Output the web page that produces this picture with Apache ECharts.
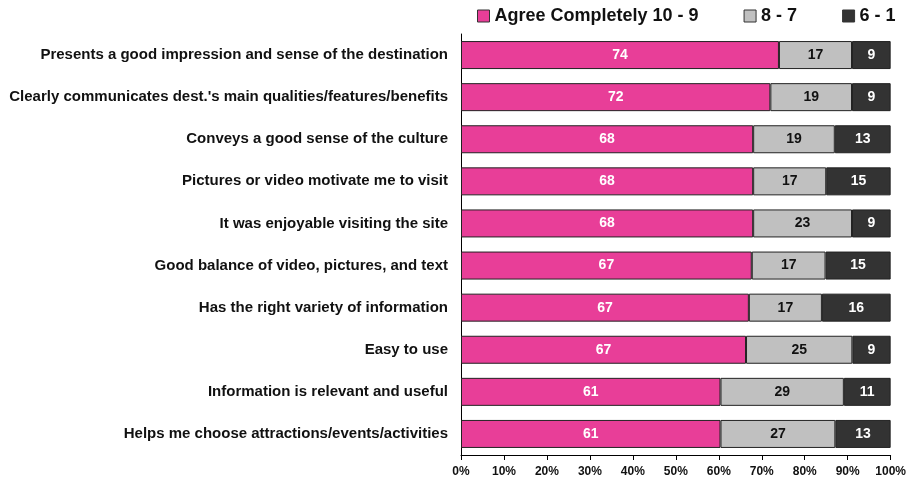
<!DOCTYPE html>
<html>
<head>
<meta charset="utf-8">
<script src="https://cdn.jsdelivr.net/npm/echarts@6/dist/echarts.min.js"></script>
<style>
  html, body { margin: 0; padding: 0; background: #fff; }
  #chart { width: 909px; height: 483px; }
</style>
</head>
<body>
<div id="chart"></div>
<script>
// Statements rated by respondents (top to bottom)
const categories = [
  "Presents a good impression and sense of the destination",
  "Clearly communicates dest.'s main qualities/features/benefits",
  "Conveys a good sense of the culture",
  "Pictures or video motivate me to visit",
  "It was enjoyable visiting the site",
  "Good balance of video, pictures, and text",
  "Has the right variety of information",
  "Easy to use",
  "Information is relevant and useful",
  "Helps me choose attractions/events/activities"
];

// Rating shares per statement
const agreeCompletely = [74, 72, 68, 68, 68, 67, 67, 67, 61, 61];
const mid = [17, 19, 19, 17, 23, 17, 17, 25, 29, 27];
const low = [9, 9, 13, 15, 9, 15, 16, 9, 11, 13];

const seriesNames = ["Agree Completely 10 - 9", "8 - 7", "6 - 1"];
const xTicks = [0, 10, 20, 30, 40, 50, 60, 70, 80, 90, 100];

const FONT = '"Liberation Sans", Arial, sans-serif';
const colors = ["#E83E98", "#C0C0C0", "#333333"];
const labelColors = ["#ffffff", "#111111", "#ffffff"];

// Each bar is drawn as its share of the row total (100% stacked)
const totals = categories.map((_, i) => agreeCompletely[i] + mid[i] + low[i]);
const raw = [agreeCompletely, mid, low];

const chart = echarts.init(document.getElementById('chart'), null, { renderer: 'canvas' });

chart.setOption({
  animation: false,
  backgroundColor: '#ffffff',
  textStyle: { fontFamily: FONT },
  legend: {
    top: 2,
    left: 472,
    itemWidth: 12,
    itemHeight: 12,
    itemGap: 45,
    icon: 'rect',
    textStyle: { fontFamily: FONT, fontSize: 18, fontWeight: 'bold', color: '#111' },
    data: seriesNames.map((n, k) => ({
      name: n,
      itemStyle: { color: colors[k], borderColor: '#333', borderWidth: 1 }
    }))
  },
  grid: { left: 461, right: 17, top: 34, bottom: 28, containLabel: false },
  xAxis: {
    type: 'value',
    min: xTicks[0],
    max: xTicks[xTicks.length - 1],
    interval: 10,
    axisLine: { show: true, lineStyle: { color: '#000', width: 1 } },
    axisTick: { show: true, length: 5, lineStyle: { color: '#000' } },
    splitLine: { show: false },
    axisLabel: {
      formatter: '{value}%',
      fontFamily: FONT, fontSize: 12, fontWeight: 'bold', color: '#111', margin: 11
    }
  },
  yAxis: {
    type: 'category',
    inverse: true,
    data: categories,
    axisLine: { show: true, lineStyle: { color: '#000', width: 1 } },
    axisTick: { show: false },
    axisLabel: {
      fontFamily: FONT, fontSize: 15, fontWeight: 'bold', color: '#111', margin: 13
    }
  },
  series: seriesNames.map((name, k) => ({
    name,
    type: 'bar',
    stack: 'total',
    barWidth: 28,
    itemStyle: { color: colors[k], borderColor: '#222', borderWidth: 1 },
    label: {
      show: true,
      position: 'inside',
      fontFamily: FONT,
      fontSize: 14,
      fontWeight: 'bold',
      color: labelColors[k],
      formatter: p => String(raw[k][p.dataIndex])
    },
    data: raw[k].map((v, i) => v / totals[i] * 100)
  }))
});
</script>
</body>
</html>
